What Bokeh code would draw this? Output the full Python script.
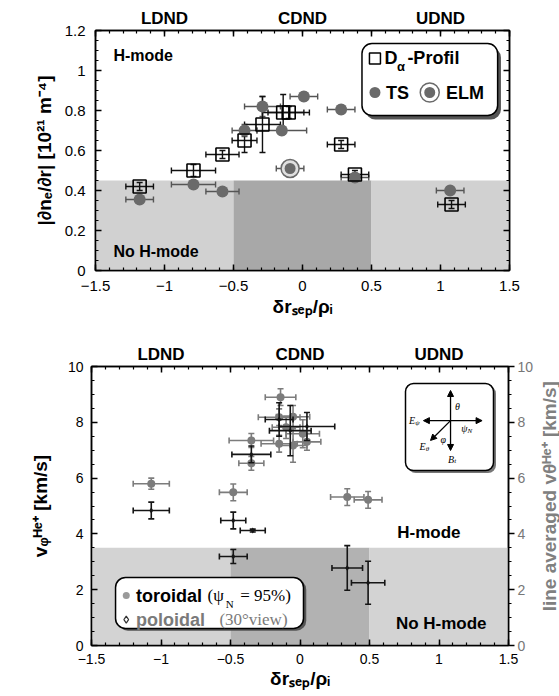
import numpy as np
from bokeh.plotting import figure
from bokeh.layouts import column, row
from bokeh.models import Range1d, LinearAxis, FixedTicker, Label, Arrow, NormalHead
from bokeh.embed import file_html
from bokeh.resources import INLINE
from bokeh.core.properties import value

# ---------------- data ----------------
config_names = ["LDND", "CDND", "UDND"]
config_centers = [-1.0, 0.0, 1.0]
region_left = [-1.5, -0.5, 0.5]
region_right = [-0.5, 0.5, 1.5]
x_major = [-1.5, -1.0, -0.5, 0.0, 0.5, 1.0, 1.5]
x_minor = [round(v, 1) for v in np.arange(-1.5, 1.51, 0.1)]

# panel (a): density gradient
a_threshold = 0.45
a_y_major = [0.0, 0.2, 0.4, 0.6, 0.8, 1.0, 1.2]
a_y_minor = [round(v, 2) for v in np.arange(0, 1.201, 0.05)]
da_x = [-1.18, -0.79, -0.58, -0.42, -0.29, -0.14, -0.10, 0.28, 0.38, 1.08]
da_y = [0.42, 0.50, 0.58, 0.65, 0.73, 0.79, 0.79, 0.63, 0.48, 0.33]
da_xerr = [0.10, 0.16, 0.12, 0.09, 0.13, 0.15, 0.15, 0.10, 0.10, 0.10]
da_yerr = [0.02, 0.03, 0.02, 0.06, 0.14, 0.09, 0.03, 0.02, 0.02, 0.02]
ts_x = [-1.18, -0.79, -0.58, -0.42, -0.29, -0.15, 0.01, 0.28, 0.38, 1.07]
ts_y = [0.355, 0.43, 0.395, 0.70, 0.82, 0.70, 0.87, 0.805, 0.465, 0.40]
ts_xerr = [0.10, 0.16, 0.12, 0.09, 0.13, 0.18, 0.10, 0.10, 0.10, 0.10]
ts_yerr = [0.01, 0.01, 0.01, 0.03, 0.05, 0.02, 0.02, 0.02, 0.02, 0.01]
elm_x = [-0.09]
elm_y = [0.51]
elm_xerr = [0.10]
elm_yerr = [0.01]

# panel (b): He+ rotation velocity
b_threshold = 3.5
b_y_major = [0, 2, 4, 6, 8, 10]
b_y_minor = [round(v, 1) for v in np.arange(0, 10.01, 0.5)]
tor_x = [-1.07, -0.48, -0.35, -0.35, -0.14, -0.15, -0.05, -0.10, 0.02, -0.15, -0.05, 0.05, 0.34, 0.49]
tor_y = [5.80, 5.49, 7.35, 6.53, 8.90, 8.18, 8.20, 7.82, 7.59, 7.23, 7.17, 7.30, 5.32, 5.22]
tor_xerr = [0.13, 0.10, 0.16, 0.09, 0.11, 0.15, 0.12, 0.10, 0.12, 0.13, 0.10, 0.10, 0.12, 0.10]
tor_yerr = [0.2, 0.3, 0.25, 0.25, 0.3, 0.3, 0.4, 0.4, 0.5, 0.3, 0.6, 0.3, 0.3, 0.3]
pol_x = [-1.07, -0.48, -0.34, -0.48, -0.35, -0.15, -0.07, 0.05, 0.34, 0.49]
pol_y = [4.84, 4.48, 4.12, 3.19, 6.85, 8.10, 7.70, 7.85, 2.78, 2.25]
pol_xerr = [0.13, 0.09, 0.09, 0.10, 0.14, 0.10, 0.15, 0.20, 0.11, 0.12]
pol_yerr = [0.3, 0.3, 0.05, 0.25, 0.3, 0.6, 0.9, 0.5, 0.8, 0.77]

FONT = "Liberation Sans"
SERIF = "Liberation Serif"


def style_axis(ax, size, color="black", inward=True):
    ax.axis_line_width = 1.5
    ax.axis_line_color = "black"
    ax.major_tick_line_width = 1.5
    ax.minor_tick_line_width = 1.2
    ax.major_tick_line_color = "black"
    ax.minor_tick_line_color = "black"
    if inward:
        ax.major_tick_in, ax.major_tick_out = 6, 0
        ax.minor_tick_in, ax.minor_tick_out = 3, 0
    else:
        ax.major_tick_in, ax.major_tick_out = 0, 6
        ax.minor_tick_in, ax.minor_tick_out = 0, 3
    ax.major_label_text_font = FONT
    ax.major_label_text_font_size = size
    ax.major_label_text_color = color
    ax.axis_label_text_font = FONT
    ax.axis_label_text_font_style = "bold"
    ax.axis_label_text_color = "black"


def errbars(p, x, y, xerr, yerr, color, width=1.4, cap=6):
    x = np.array(x, float); y = np.array(y, float)
    xe = np.array(xerr, float); ye = np.array(yerr, float)
    p.segment(x - xe, y, x + xe, y, line_color=color, line_width=width)
    p.segment(x, y - ye, x, y + ye, line_color=color, line_width=width)
    p.scatter(np.r_[x - xe, x + xe], np.r_[y, y], marker="dash", angle=np.pi / 2,
              size=cap, line_color=color, line_width=width)
    p.scatter(np.r_[x, x], np.r_[y - ye, y + ye], marker="dash",
              size=cap, line_color=color, line_width=width)


def add_top_axis(p, top_size):
    top = LinearAxis(ticker=FixedTicker(ticks=x_major, minor_ticks=x_minor))
    ov = {t: "" for t in x_major}
    for n, c in zip(config_names, config_centers):
        ov[c] = n
    top.major_label_overrides = ov
    style_axis(top, top_size)
    top.major_label_text_font_style = "bold"
    top.major_label_standoff = 3
    p.add_layout(top, "above")


def txt(p, x, y, s, size, color="black", style="bold", font=FONT, align="left", baseline="middle", angle=0.0):
    p.text([x], [y], text=[s], text_font=value(font), text_font_size=size, angle=angle,
           text_font_style=style, text_color=color, text_align=align, text_baseline=baseline)


# ================= panel (a) =================
pa = figure(frame_width=414, frame_height=240, x_range=Range1d(-1.5, 1.5), y_range=Range1d(0, 1.2),
            output_backend="svg", toolbar_location=None,
            min_border_left=95, min_border_right=50, min_border_top=30, min_border_bottom=70)
pa.grid.visible = False
pa.outline_line_color = "black"
pa.outline_line_width = 1.5
pa.background_fill_color = "white"

shade_a = ["#d1d1d1", "#a8a8a8", "#d1d1d1"]
pa.quad(left=region_left, right=region_right, bottom=[0] * 3, top=[a_threshold] * 3,
        fill_color=shade_a, line_color=None)

errbars(pa, ts_x, ts_y, ts_xerr, ts_yerr, "#555555")
errbars(pa, elm_x, elm_y, elm_xerr, elm_yerr, "#555555")
errbars(pa, da_x, da_y, da_xerr, da_yerr, "#111111")
pa.scatter(ts_x, ts_y, marker="circle", size=12, fill_color="#6a6a6a", line_color=None)
pa.scatter(elm_x, elm_y, marker="circle", size=18, fill_color="#e0e0e0", line_color="#6a6a6a", line_width=1.5)
pa.scatter(elm_x, elm_y, marker="circle", size=11, fill_color="#6a6a6a", line_color=None)
pa.scatter(da_x, da_y, marker="square", size=13, fill_color=None, line_color="black", line_width=1.6)

# legend (a)
pa.quad(left=[0.455], right=[1.438], top=[1.115], bottom=[0.755], border_radius=10,
        fill_color="#555555", line_color=None)
pa.quad(left=[0.431], right=[1.414], top=[1.135], bottom=[0.775], border_radius=10,
        fill_color="white", line_color="black", line_width=1.5)
pa.scatter([0.525], [1.06], marker="square", size=11, fill_color="white", line_color="black", line_width=1.5)
txt(pa, 0.595, 1.062, "D", "18px")
txt(pa, 0.685, 1.02, "α", "13px")
txt(pa, 0.76, 1.062, "-Profil", "18px")
pa.scatter([0.525], [0.89], marker="circle", size=11, fill_color="#6a6a6a", line_color=None)
txt(pa, 0.605, 0.89, "TS", "18px")
pa.scatter([0.922], [0.89], marker="circle", size=19, fill_color="white", line_color="#6a6a6a", line_width=1.5)
pa.scatter([0.922], [0.89], marker="circle", size=11, fill_color="#6a6a6a", line_color=None)
txt(pa, 1.04, 0.89, "ELM", "18px")

txt(pa, -1.37, 1.075, "H-mode", "16px")
txt(pa, -1.37, 0.095, "No H-mode", "16px")

xa = pa.xaxis[0]
xa.ticker = FixedTicker(ticks=x_major, minor_ticks=x_minor)
style_axis(xa, "15px")
xa.major_label_standoff = 10
xa.axis_label = "δrₛₑₚ/ρᵢ"
xa.axis_label_text_font_size = "19px"
xa.axis_label_standoff = 2
ya = pa.yaxis[0]
ya.ticker = FixedTicker(ticks=a_y_major, minor_ticks=a_y_minor)
style_axis(ya, "15px")
ya.major_label_standoff = 10
ya.axis_label = "|∂nₑ/∂r| [10²¹ m⁻⁴]"
ya.axis_label_text_font_size = "19px"
ya.axis_label_standoff = 7
add_top_axis(pa, "17px")
ra = LinearAxis(ticker=FixedTicker(ticks=a_y_major, minor_ticks=a_y_minor),
                major_label_overrides={t: "" for t in a_y_major})
style_axis(ra, "1px")
ra.major_label_standoff = 0
pa.add_layout(ra, "right")
pa.add_layout(Label(x=-87, y=250, x_units="screen", y_units="screen", text="(a)",
                    text_font=SERIF, text_font_size="18px", text_baseline="alphabetic"))

# ================= panel (b) =================
pb = figure(frame_width=417, frame_height=279, x_range=Range1d(-1.5, 1.5), y_range=Range1d(0, 10),
            output_backend="svg", toolbar_location=None,
            min_border_left=91, min_border_right=26, min_border_top=26, min_border_bottom=51)
pb.grid.visible = False
pb.outline_line_color = "black"
pb.outline_line_width = 1.5

shade_b = ["#d3d3d3", "#b2b2b2", "#d3d3d3"]
pb.quad(left=region_left, right=region_right, bottom=[0] * 3, top=[b_threshold] * 3,
        fill_color=shade_b, line_color=None)

errbars(pb, tor_x, tor_y, tor_xerr, tor_yerr, "#7c7c7c", width=1.6, cap=6)
pb.scatter(tor_x, tor_y, marker="circle", size=8, fill_color="#7c7c7c", line_color=None)
errbars(pb, pol_x, pol_y, pol_xerr, pol_yerr, "#151515", width=1.6, cap=6)
pb.scatter(pol_x, pol_y, marker="diamond", size=6, fill_color="#151515", line_color=None)

# legend (b)
pb.quad(left=[-1.31], right=[0.045], top=[2.36], bottom=[0.53], border_radius=10,
        fill_color="#555555", line_color=None)
pb.quad(left=[-1.327], right=[0.025], top=[2.44], bottom=[0.61], border_radius=10,
        fill_color="white", line_color="black", line_width=1.5)
pb.scatter([-1.25], [1.79], marker="circle", size=7, fill_color="#9a9a9a", line_color=None)
txt(pb, -1.18, 1.79, "toroidal", "18px")
txt(pb, -0.665, 1.79, "(ψ", "17px", style="normal", font=SERIF)
txt(pb, -0.535, 1.47, "N", "11px", style="normal", font=SERIF)
txt(pb, -0.43, 1.79, "= 95%)", "17px", style="normal", font=SERIF)
pb.scatter([-1.25], [0.93], marker="diamond", size=7, fill_color="white", line_color="#333333", line_width=1.2)
txt(pb, -1.18, 0.93, "poloidal", "18px", color="#7a7a7a")
txt(pb, -0.58, 0.93, "(30°view)", "17px", color="#7a7a7a", style="normal", font=SERIF)

txt(pb, 0.70, 4.05, "H-mode", "17px")
txt(pb, 0.69, 0.79, "No H-mode", "17px")

# inset coordinate sketch
pb.quad(left=[0.775], right=[1.41], top=[9.31], bottom=[6.18], border_radius=8,
        fill_color="#777777", line_color=None)
pb.quad(left=[0.759], right=[1.392], top=[9.39], bottom=[6.27], border_radius=8,
        fill_color="white", line_color="black", line_width=1.5)
cx, cy = 1.083, 8.06
for (ex, ey) in [(cx, 9.14), (cx, 6.99), (0.888, cy), (1.31, cy), (0.939, 7.35)]:
    pb.add_layout(Arrow(x_start=cx, y_start=cy, x_end=ex, y_end=ey, line_width=1.3,
                        end=NormalHead(size=6, fill_color="black", line_color="black")))
txt(pb, 1.115, 8.55, "θ", "10px", style="italic", font=SERIF)
txt(pb, 0.785, 8.06, "E", "10px", style="italic", font=SERIF)
txt(pb, 0.83, 7.98, "ψ", "7px", style="italic", font=SERIF)
txt(pb, 1.16, 7.78, "ψ", "10px", style="italic", font=SERIF)
txt(pb, 1.205, 7.7, "N", "7px", style="italic", font=SERIF)
txt(pb, 0.86, 7.13, "E", "10px", style="italic", font=SERIF)
txt(pb, 0.905, 7.05, "θ", "7px", style="italic", font=SERIF)
txt(pb, 1.01, 7.4, "φ", "10px", style="italic", font=SERIF)
txt(pb, 1.065, 6.68, "B", "10px", style="italic", font=SERIF)
txt(pb, 1.11, 6.6, "t", "7px", style="italic", font=SERIF)

xb = pb.xaxis[0]
xb.ticker = FixedTicker(ticks=x_major, minor_ticks=x_minor)
style_axis(xb, "14px")
xb.major_label_standoff = 8
xb.axis_label = "δrₛₑₚ/ρᵢ"
xb.axis_label_text_font_size = "19px"
xb.axis_label_standoff = 1
yb = pb.yaxis[0]
yb.ticker = FixedTicker(ticks=b_y_major, minor_ticks=b_y_minor)
style_axis(yb, "14px")
yb.major_label_standoff = 8
yb.axis_label = "vᵩᴴᵉ⁺ [km/s]"
yb.axis_label_text_font_size = "19px"
yb.axis_label_standoff = 14
add_top_axis(pb, "17px")
rb = LinearAxis(ticker=FixedTicker(ticks=b_y_major, minor_ticks=b_y_minor))
style_axis(rb, "14px", color="#777777", inward=False)
rb.major_label_standoff = 3
pb.add_layout(rb, "right")
pb.add_layout(Label(x=-83, y=283, x_units="screen", y_units="screen", text="(b)",
                    text_font=SERIF, text_font_size="18px", text_baseline="alphabetic"))

# side strip carrying the right-hand axis title of panel (b)
side = figure(width=25, height=356, x_range=Range1d(0, 1), y_range=Range1d(0, 1),
              output_backend="svg", toolbar_location=None,
              min_border_left=0, min_border_right=0, min_border_top=0, min_border_bottom=0)
side.axis.visible = False
side.grid.visible = False
side.outline_line_color = None
txt(side, 0.5, 0.535, "line averaged vθᴴᵉ⁺ [km/s]", "19px", color="#808080",
    align="center", angle=np.pi / 2)

layout = column(pa, row(pb, side, spacing=0), spacing=0)
open("out.html", "w").write(file_html(layout, INLINE))
